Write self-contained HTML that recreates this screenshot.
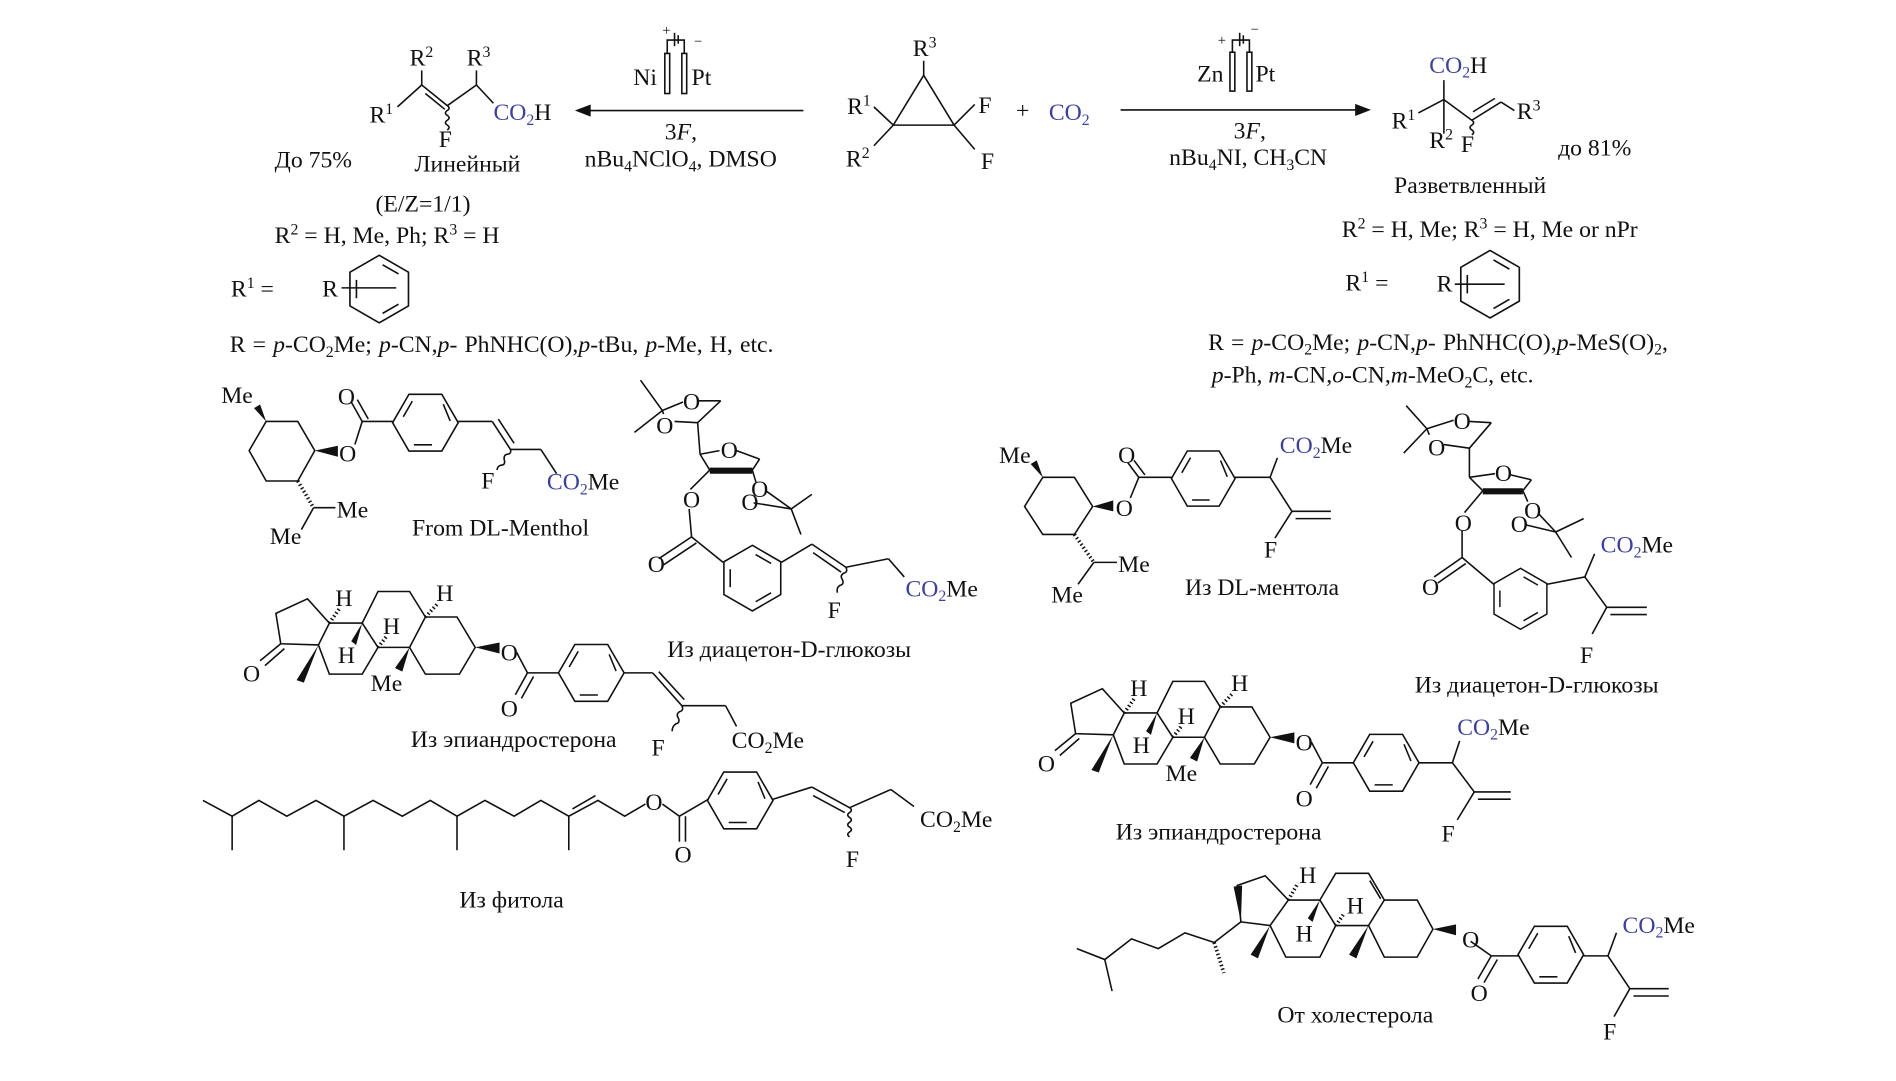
<!DOCTYPE html>
<html><head><meta charset="utf-8"><style>
html,body{margin:0;padding:0;background:#fff;}
svg{display:block}
text{font-family:"Liberation Serif","DejaVu Serif",serif;font-size:19.5px;fill:#111}
.b{fill:#3b3fa5}
.s{font-size:13px}
</style></head><body>
<svg width="1896" height="1081" viewBox="0 0 1560 890" preserveAspectRatio="none" xmlns="http://www.w3.org/2000/svg">
<defs>
<g id="bf" fill="none" stroke="#111" stroke-width="1.3">
<polygon points="27,0 13.5,23.38 -13.5,23.38 -27,0 -13.5,-23.38 13.5,-23.38"/>
<polygon points="13.5,-18.19 21,0 10.5,18.19 -10.5,18.19 -21,0 -10.5,-18.19" pathLength="6" stroke-dasharray="0 0.15 0.7 1.15"/>
</g>
<g id="bp" fill="none" stroke="#111" stroke-width="1.3">
<polygon points="0,-27 23.38,-13.5 23.38,13.5 0,27 -23.38,13.5 -23.38,-13.5"/>
<polygon points="0,-21 18.19,-10.5 18.19,10.5 0,21 -18.19,10.5 -18.19,-10.5" pathLength="6" stroke-dasharray="0 0.15 0.7 1.15"/>
</g>
</defs>
<g fill="none" stroke="#111" stroke-width="1.3">
<polygon points="760,62 735,103 785,103"/>
<line x1="760" y1="62" x2="760" y2="50"/>
<line x1="735" y1="103" x2="719" y2="88"/><line x1="735" y1="103" x2="719" y2="120"/>
<line x1="785" y1="103" x2="802" y2="86"/><line x1="785" y1="103" x2="802" y2="123"/>
<line x1="661" y1="91" x2="480" y2="91"/>
<line x1="922" y1="90.5" x2="1118" y2="90.5"/>
<rect x="547" y="44" width="4" height="33"/><rect x="561" y="44" width="4" height="33"/>
<polyline points="549,44 549,33 563,33 563,44"/>
<line x1="555" y1="27" x2="555" y2="38"/><line x1="558" y1="29" x2="558" y2="36"/>
<rect x="1012" y="43" width="4" height="32"/><rect x="1026" y="43" width="4" height="32"/>
<polyline points="1014,43 1014,33 1028,33 1028,43"/>
<line x1="1020" y1="27" x2="1020" y2="38"/><line x1="1023" y1="29" x2="1023" y2="36"/>
<line x1="347" y1="70" x2="347" y2="58"/>
<line x1="347" y1="70" x2="368" y2="87"/><line x1="350" y1="77" x2="366" y2="90"/>
<line x1="347" y1="70" x2="327" y2="88"/>
<line x1="368" y1="87" x2="392" y2="70"/><line x1="392" y1="70" x2="392" y2="58"/>
<line x1="392" y1="70" x2="406" y2="85"/>
<path d="M368,87 q3,2 0,4 q-3,2 0,4 q3,2 0,4 q-3,2 0,4 q3,2 0,4"/>
<line x1="1188" y1="82" x2="1188" y2="66"/><line x1="1188" y1="82" x2="1188" y2="110"/>
<line x1="1188" y1="82" x2="1167" y2="93"/><line x1="1188" y1="82" x2="1211" y2="99"/>
<line x1="1211" y1="99" x2="1235" y2="84"/><line x1="1212" y1="92" x2="1230" y2="81"/>
<line x1="1235" y1="84" x2="1246" y2="91"/>
<path d="M1211,99 q3,2 0,4 q-3,2 0,4 q3,2 0,4"/>
<line x1="281" y1="237" x2="326" y2="237"/>
<line x1="1197" y1="234" x2="1238" y2="234"/>
</g>
<polygon points="473,91 486,86 486,96" fill="#111"/>
<polygon points="1128,90.5 1115,85.5 1115,95.5" fill="#111"/>
<use href="#bp" transform="translate(312,238) scale(1.03)"/>
<use href="#bp" transform="translate(1226,234) scale(1.03)"/>

<g fill="none" stroke="#111" stroke-width="1.3">
<polygon points="219,347 245,347 259,371 245,396 219,396 205,371"/>
<line x1="292" y1="366" x2="298" y2="347"/>
<line x1="298" y1="347" x2="289" y2="331"/><line x1="303" y1="345" x2="294" y2="329"/>
<line x1="298" y1="347" x2="323" y2="347"/>
<line x1="377" y1="347" x2="405" y2="347"/>
<line x1="405" y1="347" x2="420" y2="370"/><line x1="410" y1="345" x2="423" y2="365"/>
<line x1="420" y1="370" x2="445" y2="370"/><line x1="445" y1="370" x2="458" y2="390"/>
<path d="M420,370 q1,4 -3,4 q-3,1 -2,5 q1,4 -3,4 q-3,1 -3,4"/>
<line x1="245" y1="396" x2="258" y2="418" stroke-width="3" stroke-dasharray="1.2 2"/>
<line x1="258" y1="418" x2="276" y2="418"/><line x1="258" y1="418" x2="248" y2="436"/>
</g>
<polygon points="219,347 209,336 214,333" fill="#111"/>
<polygon points="259,371 278,367 278,376" fill="#111"/>
<use href="#bf" transform="translate(350,348)"/>

<g fill="none" stroke="#111" stroke-width="1.3">
<line x1="527" y1="313" x2="545" y2="338"/><line x1="522" y1="356" x2="545" y2="338"/>
<line x1="545" y1="338" x2="562" y2="331"/><line x1="545" y1="338" x2="546" y2="341"/>
<line x1="574" y1="330" x2="593" y2="330"/><line x1="593" y1="330" x2="574" y2="348"/>
<line x1="555" y1="347" x2="574" y2="348"/>
<line x1="574" y1="348" x2="576" y2="374"/>
<line x1="576" y1="374" x2="592" y2="371"/><line x1="606" y1="371" x2="625" y2="378"/>
<line x1="576" y1="374" x2="584" y2="387"/><line x1="625" y1="378" x2="619" y2="387"/>
<line x1="584" y1="387" x2="568" y2="403"/>
<line x1="619" y1="387" x2="622" y2="397"/>
<line x1="620" y1="414" x2="651" y2="419"/><line x1="651" y1="419" x2="668" y2="407"/><line x1="651" y1="419" x2="659" y2="440"/>
<line x1="630" y1="404" x2="651" y2="419"/>
<line x1="567" y1="419" x2="569" y2="442"/>
<line x1="569" y1="442" x2="595" y2="463"/>
<line x1="569" y1="442" x2="542" y2="460"/><line x1="573" y1="447" x2="546" y2="465"/>
<line x1="643" y1="463" x2="668" y2="448"/>
<line x1="668" y1="448" x2="696" y2="467"/><line x1="669" y1="455" x2="692" y2="471"/>
<line x1="696" y1="467" x2="731" y2="460"/><line x1="731" y1="460" x2="744" y2="475"/>
<path d="M696,467 q2,4 -2,5 q-3,2 -1,5 q2,4 -2,5 q-3,2 -2,6"/>
</g>
<polygon points="584,385 619,385 619,390 584,390" fill="#111"/>
<use href="#bp" transform="translate(619,476)"/>

<g id="ster">
<g fill="none" stroke="#111" stroke-width="1.3">
<polyline points="262,531 231,530 227,505 253,493 271,513 262,531"/>
<polyline points="271,513 298,513 311,533 298,555 271,555 262,531"/>
<polyline points="298,513 311,487 337,487 350,508 337,533 311,533"/>
<polyline points="350,508 376,508 391,533 378,555 350,555 337,533"/>
<line x1="231" y1="530" x2="214" y2="544"/><line x1="234" y1="534" x2="218" y2="548"/>
<line x1="271" y1="513" x2="280" y2="500" stroke-width="3" stroke-dasharray="1.2 2"/>
<line x1="311" y1="533" x2="318" y2="524" stroke-width="3" stroke-dasharray="1.2 2"/>
<line x1="350" y1="508" x2="360" y2="497" stroke-width="3" stroke-dasharray="1.2 2"/>
<line x1="425" y1="537" x2="434" y2="554"/>
<line x1="434" y1="554" x2="424" y2="572"/><line x1="439" y1="557" x2="429" y2="575"/>
<line x1="434" y1="554" x2="460" y2="554"/>
</g>
<polygon points="262,531 244,560 250,562" fill="#111"/>
<polygon points="337,533 325,550 331,553" fill="#111"/>
<polygon points="298,513 289,528 293,531" fill="#111"/>
<polygon points="391,533 411,529 411,538" fill="#111"/>
<use href="#bf" transform="translate(486.5,554)"/>
<text x="276" y="499">H</text><text x="359" y="495">H</text><text x="315" y="522">H</text><text x="278" y="546">H</text>
<text x="305" y="569">Me</text><text x="200" y="561">O</text><text x="412" y="544">O</text><text x="412" y="590">O</text>
</g>
<g fill="none" stroke="#111" stroke-width="1.3">
<line x1="513" y1="554" x2="537" y2="554"/>
<line x1="537" y1="554" x2="561" y2="581"/><line x1="542" y1="553" x2="563" y2="576"/>
<line x1="561" y1="581" x2="597" y2="581"/><line x1="597" y1="581" x2="606" y2="598"/>
<path d="M561,581 q2,4 -2,5 q-3,2 -1,5 q2,4 -2,5 q-3,2 -3,6"/>
</g>

<g fill="none" stroke="#111" stroke-width="1.3">
<polyline points="167,659 191,672 213,659 236,672 260,659 283,672 307,659 331,672 354,659 376,672 399,659 423,672 445,659 468,672 492,659 514,672 531,662"/>
<line x1="191" y1="672" x2="191" y2="700"/><line x1="283" y1="672" x2="283" y2="700"/>
<line x1="376" y1="672" x2="376" y2="700"/><line x1="468" y1="672" x2="468" y2="700"/>
<line x1="471" y1="666" x2="490" y2="655"/>
<line x1="545" y1="662" x2="559" y2="672"/>
<line x1="559" y1="672" x2="559" y2="693"/><line x1="564" y1="672" x2="564" y2="693"/>
<line x1="559" y1="672" x2="583" y2="658"/>
<line x1="636" y1="658" x2="668" y2="648"/>
<line x1="668" y1="648" x2="699" y2="665"/><line x1="669" y1="655" x2="695" y2="669"/>
<line x1="699" y1="665" x2="733" y2="650"/><line x1="733" y1="650" x2="752" y2="664"/>
<path d="M699,665 q3,2 0,4 q-3,2 0,4 q3,2 0,4 q-3,2 0,4 q3,2 0,4 q-3,2 0,4"/>
</g>
<use href="#bf" transform="translate(609,659)"/>

<g fill="none" stroke="#111" stroke-width="1.3">
<polygon points="858,393 884,393 899,417 884,440 858,440 843,417"/>
<line x1="930" y1="410" x2="937" y2="393"/>
<line x1="937" y1="393" x2="928" y2="381"/><line x1="942" y1="391" x2="933" y2="379"/>
<line x1="937" y1="393" x2="964" y2="393"/>
<line x1="1016" y1="393" x2="1045" y2="393"/><line x1="1045" y1="393" x2="1051" y2="377"/>
<line x1="1045" y1="393" x2="1063" y2="421"/><line x1="1063" y1="421" x2="1095" y2="421"/><line x1="1066" y1="427" x2="1095" y2="427"/>
<line x1="1063" y1="421" x2="1049" y2="443"/>
<line x1="884" y1="440" x2="900" y2="463" stroke-width="3" stroke-dasharray="1.2 2"/>
<line x1="900" y1="463" x2="919" y2="463"/><line x1="900" y1="463" x2="887" y2="481"/>
</g>
<polygon points="858,393 848,382 853,379" fill="#111"/>
<polygon points="899,417 916,412 916,421" fill="#111"/>
<use href="#bf" transform="translate(990,394) scale(0.97)"/>

<g fill="none" stroke="#111" stroke-width="1.3">
<line x1="1157" y1="334" x2="1174" y2="353"/><line x1="1155" y1="373" x2="1174" y2="353"/>
<line x1="1174" y1="353" x2="1196" y2="346"/><line x1="1174" y1="353" x2="1176" y2="358"/>
<line x1="1209" y1="347" x2="1227" y2="348"/><line x1="1227" y1="348" x2="1209" y2="369"/>
<line x1="1188" y1="366" x2="1209" y2="369"/>
<line x1="1209" y1="369" x2="1209" y2="393"/>
<line x1="1209" y1="393" x2="1230" y2="390"/><line x1="1243" y1="391" x2="1260" y2="395"/>
<line x1="1209" y1="393" x2="1220" y2="404"/><line x1="1260" y1="395" x2="1253" y2="404"/>
<line x1="1220" y1="404" x2="1205" y2="422"/><line x1="1253" y1="404" x2="1257" y2="413"/>
<line x1="1255" y1="432" x2="1280" y2="438"/><line x1="1266" y1="423" x2="1280" y2="438"/>
<line x1="1280" y1="438" x2="1303" y2="427"/><line x1="1280" y1="438" x2="1293" y2="459"/>
<line x1="1203" y1="437" x2="1203" y2="459"/>
<line x1="1203" y1="459" x2="1229" y2="481"/>
<line x1="1203" y1="459" x2="1180" y2="475"/><line x1="1206" y1="464" x2="1183" y2="480"/>
<line x1="1273" y1="481" x2="1304" y2="475"/><line x1="1304" y1="475" x2="1312" y2="456"/>
<line x1="1304" y1="475" x2="1322" y2="500"/><line x1="1322" y1="500" x2="1355" y2="500"/><line x1="1325" y1="506" x2="1355" y2="506"/>
<line x1="1322" y1="500" x2="1310" y2="522"/>
</g>
<polygon points="1220,402 1253,402 1253,407 1220,407" fill="#111"/>
<use href="#bp" transform="translate(1251,493) scale(0.93)"/>

<use href="#ster" transform="translate(654,74)"/>
<g fill="none" stroke="#111" stroke-width="1.3">
<line x1="1167" y1="628" x2="1195" y2="628"/><line x1="1195" y1="628" x2="1201" y2="610"/>
<line x1="1195" y1="628" x2="1213" y2="652"/><line x1="1213" y1="652" x2="1243" y2="652"/><line x1="1216" y1="658" x2="1243" y2="658"/>
<line x1="1213" y1="652" x2="1199" y2="675"/>
</g>

<g fill="none" stroke="#111" stroke-width="1.3">
<polyline points="1021,759 1018,729 1041,721 1060,741 1045,762 1021,759"/>
<polyline points="1060,741 1086,741 1099,762 1086,788 1058,788 1045,762"/>
<polyline points="1086,741 1099,719 1126,719 1139,741 1126,762 1099,762"/>
<line x1="1127" y1="725" x2="1136" y2="740"/>
<polyline points="1139,741 1166,741 1179,765 1166,788 1139,788 1126,762"/>
<polyline points="1021,759 999,776 975,768 953,781 931,773 909,790 886,781"/>
<line x1="909" y1="790" x2="915" y2="816"/>
<line x1="999" y1="776" x2="1007" y2="801" stroke-width="3" stroke-dasharray="1.2 2"/>
<line x1="1060" y1="741" x2="1068" y2="727" stroke-width="3" stroke-dasharray="1.2 2"/>
<line x1="1099" y1="762" x2="1106" y2="752" stroke-width="3" stroke-dasharray="1.2 2"/>
<line x1="1210" y1="775" x2="1227" y2="787"/>
<line x1="1227" y1="787" x2="1216" y2="806"/><line x1="1232" y1="790" x2="1221" y2="809"/>
<line x1="1227" y1="787" x2="1250" y2="787"/>
<line x1="1303" y1="787" x2="1323" y2="787"/><line x1="1323" y1="787" x2="1330" y2="768"/>
<line x1="1323" y1="787" x2="1341" y2="814"/><line x1="1341" y1="814" x2="1373" y2="814"/><line x1="1344" y1="820" x2="1373" y2="820"/>
<line x1="1341" y1="814" x2="1328" y2="837"/>
</g>
<polygon points="1021,759 1015,730 1022,729" fill="#111"/>
<polygon points="1045,762 1029,786 1035,789" fill="#111"/>
<polygon points="1126,762 1110,786 1116,789" fill="#111"/>
<polygon points="1086,741 1076,756 1080,759" fill="#111"/>
<polygon points="1179,765 1198,761 1198,770" fill="#111"/>
<use href="#bf" transform="translate(1276,786)"/>

<!-- TEXT -->
<text x="751" y="46">R<tspan class="s" dy="-7">3</tspan></text>
<text x="697" y="94">R<tspan class="s" dy="-7">1</tspan></text>
<text x="696" y="137">R<tspan class="s" dy="-7">2</tspan></text>
<text x="805" y="93">F</text><text x="807" y="139">F</text>
<text x="836" y="97">+</text>
<text x="863" y="99" class="b">CO<tspan class="s b" dy="4">2</tspan></text>
<text x="545" y="29" style="font-size:12px">+</text><text x="571" y="38" style="font-size:12px">−</text>
<text x="1002" y="37" style="font-size:12px">+</text><text x="1029" y="28" style="font-size:12px">−</text>
<text x="521" y="70">Ni</text><text x="569" y="70">Pt</text>
<text x="547" y="115">3<tspan font-style="italic">F</tspan>,</text>
<text x="481" y="137">nBu<tspan class="s" dy="4">4</tspan><tspan dy="-4">NClO</tspan><tspan class="s" dy="4">4</tspan><tspan dy="-4">, DMSO</tspan></text>
<text x="985" y="67">Zn</text><text x="1033" y="67">Pt</text>
<text x="1015" y="114">3<tspan font-style="italic">F</tspan>,</text>
<text x="962" y="136">nBu<tspan class="s" dy="4">4</tspan><tspan dy="-4">NI, CH</tspan><tspan class="s" dy="4">3</tspan><tspan dy="-4">CN</tspan></text>

<text x="337" y="54">R<tspan class="s" dy="-7">2</tspan></text>
<text x="384" y="54">R<tspan class="s" dy="-7">3</tspan></text>
<text x="304" y="101">R<tspan class="s" dy="-7">1</tspan></text>
<text x="406" y="99"><tspan class="b">CO</tspan><tspan class="s b" dy="4">2</tspan><tspan dy="-4">H</tspan></text>
<text x="361" y="121">F</text>
<text x="226" y="138">До 75%</text>
<text x="341" y="141">Линейный</text>
<text x="309" y="174">(E/Z=1/1)</text>
<text x="226" y="200">R<tspan class="s" dy="-7">2</tspan><tspan dy="7"> = H, Me, Ph;   R</tspan><tspan class="s" dy="-7">3</tspan><tspan dy="7"> = H</tspan></text>
<text x="190" y="244">R<tspan class="s" dy="-7">1</tspan><tspan dy="7">   =</tspan></text>
<text x="265" y="244">R</text>
<text x="189" y="290" style="word-spacing:1px">R = <tspan font-style="italic">p</tspan>-CO<tspan class="s" dy="4">2</tspan><tspan dy="-4">Me; </tspan><tspan font-style="italic">p</tspan>-CN,<tspan font-style="italic">p</tspan>- PhNHC(O),<tspan font-style="italic">p</tspan>-tBu, <tspan font-style="italic">p</tspan>-Me, H, etc.</text>

<text x="1176" y="60"><tspan class="b">CO</tspan><tspan class="s b" dy="4">2</tspan><tspan dy="-4">H</tspan></text>
<text x="1145" y="106">R<tspan class="s" dy="-7">1</tspan></text>
<text x="1176" y="122">R<tspan class="s" dy="-7">2</tspan></text>
<text x="1202" y="125">F</text>
<text x="1248" y="98">R<tspan class="s" dy="-7">3</tspan></text>
<text x="1282" y="128">до  81%</text>
<text x="1147" y="159">Разветвленный</text>
<text x="1104" y="195">R<tspan class="s" dy="-7">2</tspan><tspan dy="7"> = H, Me;  R</tspan><tspan class="s" dy="-7">3</tspan><tspan dy="7"> = H, Me or nPr</tspan></text>
<text x="1107" y="239">R<tspan class="s" dy="-7">1</tspan><tspan dy="7">   =</tspan></text>
<text x="1182" y="240">R</text>
<text x="994" y="288" style="word-spacing:1px">R = <tspan font-style="italic">p</tspan>-CO<tspan class="s" dy="4">2</tspan><tspan dy="-4">Me; </tspan><tspan font-style="italic">p</tspan>-CN,<tspan font-style="italic">p</tspan>- PhNHC(O),<tspan font-style="italic">p</tspan>-MeS(O)<tspan class="s" dy="4">2</tspan><tspan dy="-4">,</tspan></text>
<text x="997" y="315"><tspan font-style="italic">p</tspan>-Ph, <tspan font-style="italic">m</tspan>-CN,<tspan font-style="italic">o</tspan>-CN,<tspan font-style="italic">m</tspan>-MeO<tspan class="s" dy="4">2</tspan><tspan dy="-4">C, etc.</tspan></text>

<text x="182" y="332">Me</text><text x="278" y="333">O</text><text x="279" y="380">O</text>
<text x="396" y="402">F</text>
<text x="450" y="403"><tspan class="b">CO</tspan><tspan class="s b" dy="4">2</tspan><tspan dy="-4">Me</tspan></text>
<text x="277" y="426">Me</text><text x="222" y="448">Me</text>
<text x="339" y="441">From DL-Menthol</text>
<text x="562" y="337">O</text><text x="540" y="357">O</text><text x="593" y="377">O</text>
<text x="562" y="418">O</text><text x="618" y="409">O</text><text x="610" y="420">O</text>
<text x="533" y="471">O</text><text x="681" y="509">F</text>
<text x="745" y="491"><tspan class="b">CO</tspan><tspan class="s b" dy="4">2</tspan><tspan dy="-4">Me</tspan></text>
<text x="549" y="541">Из диацетон-D-глюкозы</text>
<text x="338" y="615">Из эпиандростерона</text>
<text x="536" y="622">F</text>
<text x="602" y="616">CO<tspan class="s" dy="4">2</tspan><tspan dy="-4">Me</tspan></text>
<text x="531" y="667">O</text><text x="555" y="710">O</text>
<text x="696" y="714">F</text>
<text x="757" y="681">CO<tspan class="s" dy="4">2</tspan><tspan dy="-4">Me</tspan></text>
<text x="378" y="747">Из фитола</text>
<text x="822" y="381">Me</text><text x="920" y="381">O</text><text x="918" y="425">O</text>
<text x="1053" y="373"><tspan class="b">CO</tspan><tspan class="s b" dy="4">2</tspan><tspan dy="-4">Me</tspan></text>
<text x="1040" y="459">F</text>
<text x="920" y="471">Me</text><text x="865" y="496">Me</text>
<text x="975" y="490">Из DL-ментола</text>
<text x="1196" y="353">O</text><text x="1175" y="375">O</text><text x="1230" y="396">O</text>
<text x="1197" y="437">O</text><text x="1254" y="427">O</text><text x="1243" y="438">O</text>
<text x="1170" y="490">O</text>
<text x="1317" y="455"><tspan class="b">CO</tspan><tspan class="s b" dy="4">2</tspan><tspan dy="-4">Me</tspan></text>
<text x="1300" y="546">F</text>
<text x="1164" y="570">Из диацетон-D-глюкозы</text>
<text x="1199" y="605"><tspan class="b">CO</tspan><tspan class="s b" dy="4">2</tspan><tspan dy="-4">Me</tspan></text>
<text x="1186" y="693">F</text>
<text x="918" y="691">Из эпиандростерона</text>
<text x="1069" y="727">H</text><text x="1108" y="752">H</text><text x="1066" y="775">H</text>
<text x="1203" y="780">O</text><text x="1210" y="824">O</text>
<text x="1335" y="768"><tspan class="b">CO</tspan><tspan class="s b" dy="4">2</tspan><tspan dy="-4">Me</tspan></text>
<text x="1319" y="856">F</text>
<text x="1051" y="842">От холестерола</text>
</svg>
</body></html>
